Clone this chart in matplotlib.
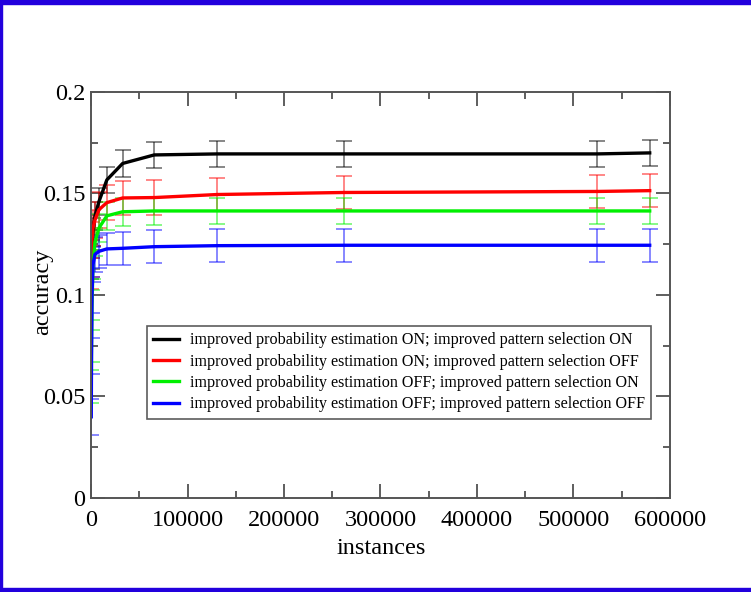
import matplotlib
matplotlib.use("Agg")
import matplotlib.pyplot as plt
import matplotlib as mpl
from matplotlib.ticker import MultipleLocator, FuncFormatter
from matplotlib.patches import Rectangle

instances = [256, 512, 1024, 2048, 4096, 8192, 16384, 32768, 65536,
             131072, 262144, 524288, 579000]

acc_on_on = [0.115, 0.120, 0.125, 0.131, 0.139, 0.146, 0.1567, 0.1648,
             0.169, 0.1695, 0.1695, 0.1695, 0.170]
acc_on_off = [0.112, 0.118, 0.127, 0.133, 0.137, 0.142, 0.1455, 0.1478,
              0.148, 0.1495, 0.1505, 0.151, 0.1514]
acc_off_on = [0.055, 0.075, 0.095, 0.115, 0.126, 0.133, 0.139, 0.141,
              0.1414, 0.1414, 0.1414, 0.1414, 0.1414]
acc_off_off = [0.040, 0.070, 0.100, 0.115, 0.120, 0.1215, 0.1227, 0.123,
               0.1238, 0.1243, 0.1245, 0.1245, 0.1245]

err_on_on = [0.007, 0.007, 0.007, 0.007, 0.0068, 0.0066, 0.0065, 0.0065,
             0.0064, 0.0063, 0.0063, 0.0063, 0.0063]
err_on_off = [0.009, 0.009, 0.009, 0.0088, 0.0088, 0.0088, 0.0085, 0.0085,
              0.0085, 0.0083, 0.0082, 0.008, 0.008]
err_off_on = [0.008, 0.008, 0.0075, 0.007, 0.007, 0.007, 0.0068, 0.0068,
              0.0067, 0.0066, 0.0066, 0.0066, 0.0066]
err_off_off = [0.009, 0.009, 0.0088, 0.0085, 0.0085, 0.0082, 0.008, 0.008,
               0.008, 0.0082, 0.0082, 0.0082, 0.0082]

labels = ["improved probability estimation ON; improved pattern selection ON",
          "improved probability estimation ON; improved pattern selection OFF",
          "improved probability estimation OFF; improved pattern selection ON",
          "improved probability estimation OFF; improved pattern selection OFF"]
colors = ["#000000", "#ff0000", "#00f000", "#0000ff"]

mpl.rcParams["font.family"] = "Liberation Serif"

fig = plt.figure(figsize=(7.51, 5.92), dpi=100)
ax = fig.add_axes([0.1212, 0.1588, 0.7709, 0.6858])

series = [acc_on_on, acc_on_off, acc_off_on, acc_off_off]
errs = [err_on_on, err_on_off, err_off_on, err_off_off]

for y, e, c in zip(series, errs, colors):
    ax.errorbar(instances, y, yerr=e, fmt="none", ecolor=c, alpha=0.55,
                elinewidth=1.2, capsize=6, capthick=1.2)

for y, c, lab in zip(series, colors, labels):
    ax.plot(instances, y, color=c, lw=2.4, label=lab)

ax.set_xlim(0, 600000)
ax.set_ylim(0, 0.2)
ax.xaxis.set_major_locator(MultipleLocator(100000))
ax.xaxis.set_minor_locator(MultipleLocator(50000))
ax.yaxis.set_major_locator(MultipleLocator(0.05))
ax.yaxis.set_minor_locator(MultipleLocator(0.025))
ax.yaxis.set_major_formatter(FuncFormatter(lambda v, p: "%g" % round(v, 3)))
ax.xaxis.set_major_formatter(FuncFormatter(lambda v, p: "%d" % v))

ax.tick_params(which="both", direction="in", top=True, right=True,
               labelsize=17.5, color="#333333")
ax.tick_params(which="major", length=10, width=1.1)
ax.tick_params(which="minor", length=5, width=1.1)
ax.tick_params(axis="x", which="major", pad=9)
ax.tick_params(axis="y", which="major", pad=4)
for s in ax.spines.values():
    s.set_linewidth(1.4)
    s.set_color("#555555")

fig.text(381 / 751, 1 - 549 / 592, "instances", fontsize=17.5,
         ha="center", va="center")
fig.text(43 / 751, 1 - 292 / 592, "accuracy", fontsize=17.5,
         ha="center", va="center", rotation=90)

leg = ax.legend(loc="upper left", bbox_to_anchor=(0.0967, 0.4237),
                fontsize=11.6, frameon=True, fancybox=False,
                handlelength=1.6, labelspacing=0.33, borderpad=0.4,
                handletextpad=0.65, borderaxespad=0)
leg.get_frame().set_edgecolor("#333333")
leg.get_frame().set_linewidth(1.2)

# blue frame around the picture
bc = "#2200dd"
fig.patches.append(Rectangle((0, 0), 2 / 751, 1, transform=fig.transFigure,
                             color=bc, zorder=10))
fig.patches.append(Rectangle((0, 1 - 4 / 592), 1, 4 / 592,
                             transform=fig.transFigure, color=bc, zorder=10))
fig.patches.append(Rectangle((0, 0), 1, 4 / 592, transform=fig.transFigure,
                             color=bc, zorder=10))

fig.savefig("out.png", dpi=100)
